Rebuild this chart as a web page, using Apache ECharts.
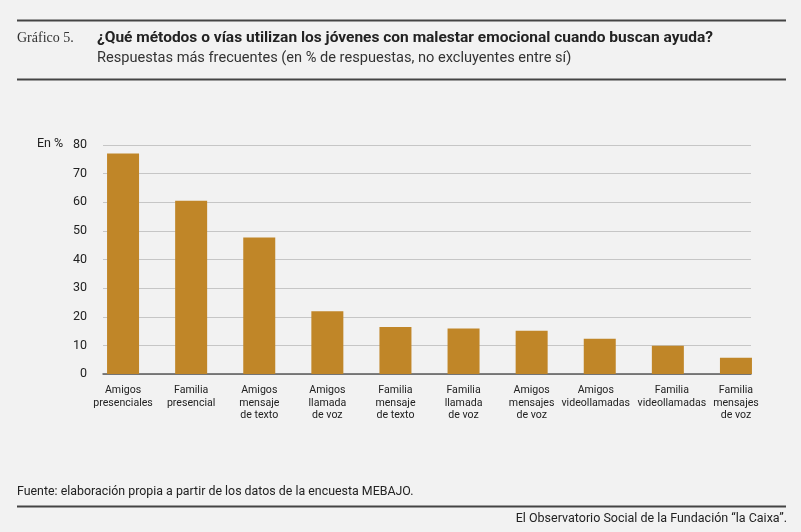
<!DOCTYPE html>
<html><head><meta charset="utf-8">
<script src="https://cdn.jsdelivr.net/npm/echarts@6/dist/echarts.min.js"></script>
<style>html,body{margin:0;padding:0;background:#f2f2f2;}#c{width:801px;height:532px;}</style>
</head><body><div id="c"></div>
<script>
const categories = ["Amigos\npresenciales","Familia\npresencial","Amigos\nmensaje\nde texto","Amigos\nllamada\nde voz","Familia\nmensaje\nde texto","Familia\nllamada\nde voz","Amigos\nmensajes\nde voz","Amigos\nvideollamadas","Familia\nvideollamadas","Familia\nmensajes\nde voz"];
const values = [77, 60.5, 47.7, 21.9, 16.4, 15.9, 15.1, 12.3, 9.9, 5.7];
const yMin = 0, yMax = 80, yStep = 10;

const font = "Roboto, 'Noto Sans', sans-serif";
// nudge the two wide neighbouring labels apart, as in the reference
const labelPad = {7: [0, 8, 0, 0], 8: [0, 0, 0, 8]};
const catData = categories.map((c, i) => labelPad[i] ? {value: c, textStyle: {padding: labelPad[i]}} : c);

const chart = echarts.init(document.getElementById('c'));
chart.setOption({
  backgroundColor: '#f2f2f2',
  animation: false,
  grid: [
    {left: 103, right: 50, top: 145, bottom: 158},
    {left: 89, right: 31, top: 145, bottom: 158}
  ],
  xAxis: [
    {gridIndex: 0, type: 'value', min: 0, max: 1, axisLabel: {show: false}, axisTick: {show: false}, splitLine: {show: false},
     axisLine: {show: true, lineStyle: {color: '#5a5a5a', width: 1.5}}},
    {gridIndex: 1, type: 'category', data: catData, axisLine: {show: false}, axisTick: {show: false},
     axisLabel: {interval: 0, color: '#222', fontFamily: font, fontSize: 10.6, lineHeight: 12.7, margin: 10}}
  ],
  yAxis: [
    {gridIndex: 0, type: 'value', min: yMin, max: yMax, interval: yStep,
     axisLine: {show: false}, axisTick: {show: false},
     axisLabel: {color: '#222', fontFamily: font, fontSize: 12.5, margin: 16},
     splitLine: {lineStyle: {color: '#c6c6c6', width: 1}}},
    {gridIndex: 1, type: 'value', min: yMin, max: yMax, interval: yStep, show: false, splitLine: {show: false}}
  ],
  series: [{
    type: 'bar', xAxisIndex: 1, yAxisIndex: 1, data: values, barWidth: 32,
    itemStyle: {color: '#c08628'}
  }],
  graphic: [
    {type: 'line', shape: {x1: 17, y1: 20.5, x2: 786, y2: 20.5}, style: {stroke: '#444', lineWidth: 2}},
    {type: 'line', shape: {x1: 17, y1: 79.5, x2: 786, y2: 79.5}, style: {stroke: '#444', lineWidth: 2}},
    {type: 'line', shape: {x1: 17, y1: 506.5, x2: 786, y2: 506.5}, style: {stroke: '#444', lineWidth: 2}},
    {type: 'text', left: 17, top: 31, style: {text: 'Gráfico 5.', font: "14px 'Liberation Serif', serif", fill: '#333'}},
    {type: 'text', left: 97, top: 30, style: {text: '¿Qué métodos o vías utilizan los jóvenes con malestar emocional cuando buscan ayuda?', font: "bold 15.5px " + font, fill: '#222'}},
    {type: 'text', left: 97, top: 51, style: {text: 'Respuestas más frecuentes (en % de respuestas, no excluyentes entre sí)', font: "14.6px " + font, fill: '#333'}},
    {type: 'text', left: 37, top: 137, style: {text: 'En %', font: "12.5px " + font, fill: '#222'}},
    {type: 'text', left: 17, top: 486, style: {text: 'Fuente: elaboración propia a partir de los datos de la encuesta MEBAJO.', font: "12.4px " + font, fill: '#222'}},
    {type: 'text', right: 14, top: 512, style: {text: 'El Observatorio Social de la Fundación “la Caixa”.', font: "12.5px " + font, fill: '#222'}}
  ]
});
</script></body></html>
